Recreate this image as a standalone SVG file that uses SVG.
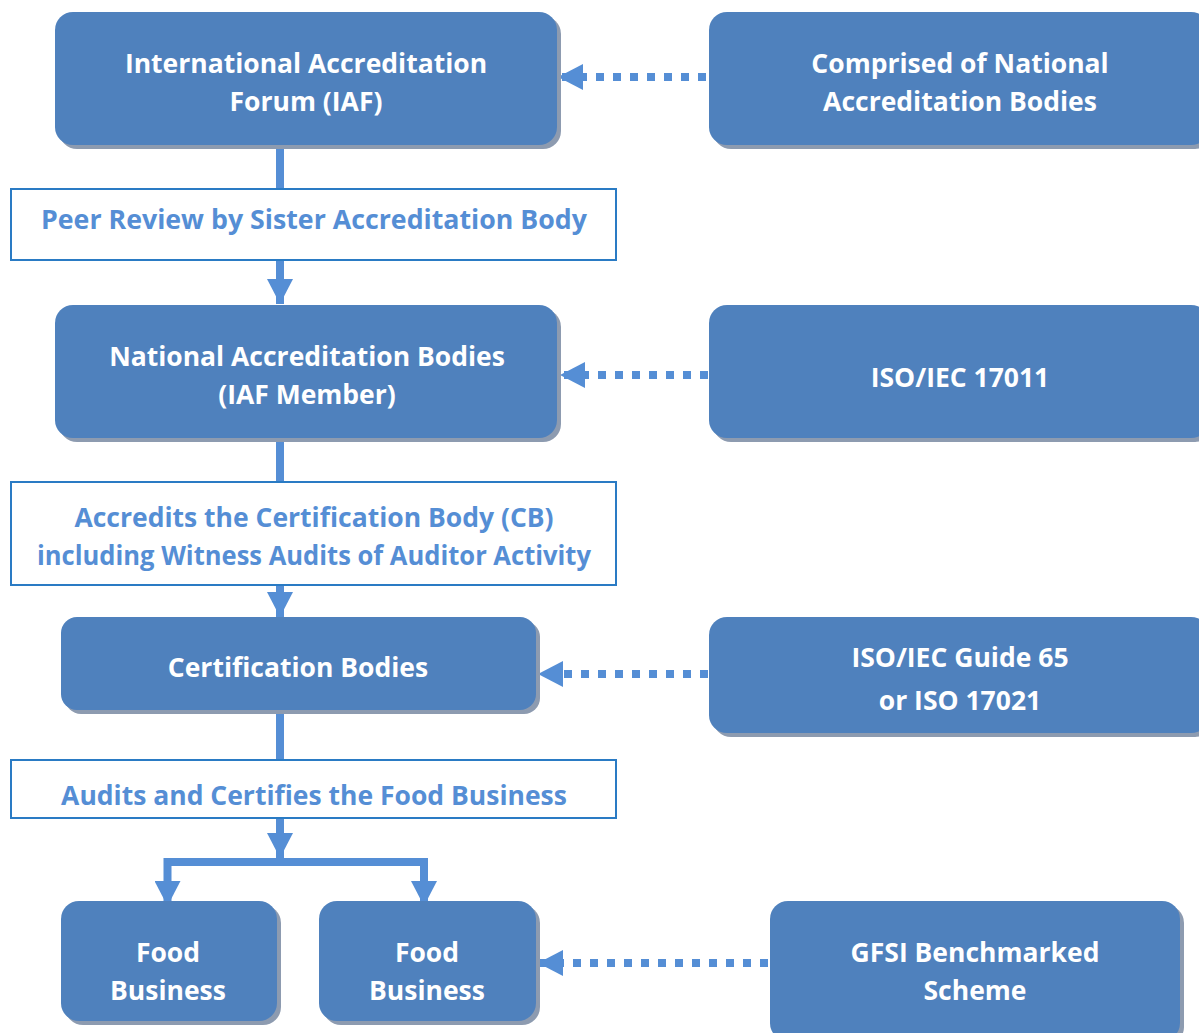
<svg xmlns="http://www.w3.org/2000/svg" width="1199" height="1033" viewBox="0 0 1199 1033">
<defs>
<style>
.node{fill:#4f81bd;}
.shadow{fill:#8d9bb0;}
.ntext{font-family:"Open Sans",Lato,"Liberation Sans",sans-serif;font-weight:700;font-size:26.5px;fill:#ffffff;text-anchor:middle;}
.lbox{fill:#ffffff;stroke:#2a7bc4;stroke-width:2;}
.ltext{font-family:"Open Sans",Lato,"Liberation Sans",sans-serif;font-weight:700;font-size:26.5px;fill:#558ed5;text-anchor:middle;}
.solid{fill:none;stroke:#558ed5;stroke-width:8;}
.dotted{fill:none;stroke:#558ed5;stroke-width:8;stroke-dasharray:8 9;}
</style>
<marker id="ah" markerUnits="userSpaceOnUse" markerWidth="26" markerHeight="26" refX="25" refY="13" orient="auto" viewBox="0 0 26 26">
<path d="M0,0 L25,13 L0,26 z" fill="#558ed5"/>
</marker>
</defs>
<rect width="1199" height="1033" fill="#ffffff"/>

<g id="connectors">
<line class="solid" x1="280" y1="145" x2="280" y2="189"/>
<line class="solid" x1="280" y1="260" x2="280" y2="304" marker-end="url(#ah)"/>
<line class="solid" x1="280" y1="438" x2="280" y2="482"/>
<line class="solid" x1="280" y1="585" x2="280" y2="617" marker-end="url(#ah)"/>
<line class="solid" x1="280" y1="710" x2="280" y2="760"/>
<line class="solid" x1="280" y1="818" x2="280" y2="858" marker-end="url(#ah)"/>
<path class="solid" d="M284,862 H167.5 V906" marker-end="url(#ah)"/>
<path class="solid" d="M276,862 H424 V906" marker-end="url(#ah)"/>
<line class="dotted" x1="706" y1="77" x2="558" y2="77" marker-end="url(#ah)"/>
<line class="dotted" x1="708" y1="375" x2="560" y2="375" marker-end="url(#ah)"/>
<line class="dotted" x1="708" y1="674" x2="538" y2="674" marker-end="url(#ah)"/>
<line class="dotted" x1="768" y1="963" x2="538" y2="963" marker-end="url(#ah)"/>
</g>

<g id="iaf">
<rect class="shadow" x="59" y="16" width="502" height="133" rx="18"/>
<rect class="node" x="55" y="12" width="502" height="133" rx="18"/>
<text class="ntext" x="306" y="73">International Accreditation</text>
<text class="ntext" x="306" y="111">Forum (IAF)</text>
</g>

<g id="comprised">
<rect class="shadow" x="713" y="16" width="500" height="133" rx="18"/>
<rect class="node" x="709" y="12" width="500" height="133" rx="18"/>
<text class="ntext" x="960" y="73">Comprised of National</text>
<text class="ntext" x="960" y="111">Accreditation Bodies</text>
</g>

<g id="peer-review">
<rect class="lbox" x="11" y="189" width="605" height="71"/>
<text class="ltext" x="314" y="229" textLength="546" lengthAdjust="spacingAndGlyphs">Peer Review by Sister Accreditation Body</text>
</g>

<g id="nab">
<rect class="shadow" x="59" y="309" width="502" height="133" rx="18"/>
<rect class="node" x="55" y="305" width="502" height="133" rx="18"/>
<text class="ntext" x="307" y="366">National Accreditation Bodies</text>
<text class="ntext" x="307" y="404">(IAF Member)</text>
</g>

<g id="iso17011">
<rect class="shadow" x="713" y="309" width="500" height="133" rx="18"/>
<rect class="node" x="709" y="305" width="500" height="133" rx="18"/>
<text class="ntext" x="960" y="387">ISO/IEC 17011</text>
</g>

<g id="accredits">
<rect class="lbox" x="11" y="482" width="605" height="103"/>
<text class="ltext" x="314" y="527">Accredits the Certification Body (CB)</text>
<text class="ltext" x="314" y="565" textLength="554" lengthAdjust="spacingAndGlyphs">including Witness Audits of Auditor Activity</text>
</g>

<g id="cb">
<rect class="shadow" x="65" y="621" width="475" height="93" rx="16"/>
<rect class="node" x="61" y="617" width="475" height="93" rx="16"/>
<text class="ntext" x="298" y="677">Certification Bodies</text>
</g>

<g id="iso65">
<rect class="shadow" x="713" y="621" width="500" height="116" rx="18"/>
<rect class="node" x="709" y="617" width="500" height="116" rx="18"/>
<text class="ntext" x="960" y="667">ISO/IEC Guide 65</text>
<text class="ntext" x="960" y="710">or ISO 17021</text>
</g>

<g id="audits">
<rect class="lbox" x="11" y="760" width="605" height="58"/>
<text class="ltext" x="314" y="805">Audits and Certifies the Food Business</text>
</g>

<g id="food1">
<rect class="shadow" x="65" y="905" width="216" height="120" rx="18"/>
<rect class="node" x="61" y="901" width="216" height="120" rx="18"/>
<text class="ntext" x="168" y="962">Food</text>
<text class="ntext" x="168" y="1000">Business</text>
</g>

<g id="food2">
<rect class="shadow" x="323" y="905" width="217" height="120" rx="18"/>
<rect class="node" x="319" y="901" width="217" height="120" rx="18"/>
<text class="ntext" x="427" y="962">Food</text>
<text class="ntext" x="427" y="1000">Business</text>
</g>

<g id="gfsi">
<rect class="shadow" x="774" y="905" width="410" height="140" rx="18"/>
<rect class="node" x="770" y="901" width="410" height="140" rx="18"/>
<text class="ntext" x="975" y="962">GFSI Benchmarked</text>
<text class="ntext" x="975" y="1000">Scheme</text>
</g>
</svg>
